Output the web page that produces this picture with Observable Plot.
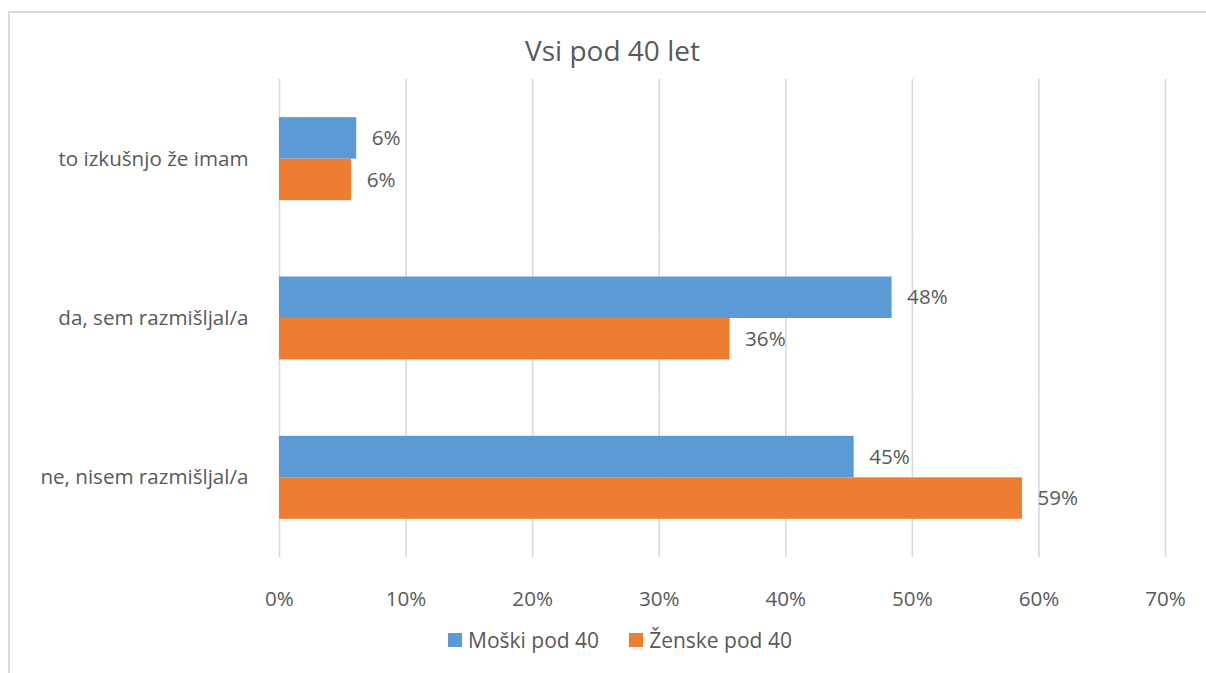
<!DOCTYPE html>
<html><head><meta charset="utf-8">
<script src="https://cdn.jsdelivr.net/npm/d3@7"></script>
<script src="https://cdn.jsdelivr.net/npm/@observablehq/plot@0.6"></script>
<style>
html,body{margin:0;padding:0;background:#fff;overflow:hidden;}
body{font-family:"Open Sans",sans-serif;color:#595959;width:1206px;height:673px;position:relative;}
#frame{position:absolute;left:8px;top:11px;width:1300px;height:800px;border:2px solid #d9d9d9;box-sizing:border-box;}
#title{position:absolute;left:0;width:1225px;top:36px;line-height:28px;text-align:center;font-size:28px;}
#chart{position:absolute;left:0;top:70px;}
#legend{position:absolute;left:448px;top:630px;display:flex;align-items:center;font-size:21px;line-height:20px;white-space:nowrap;}
.item{display:flex;align-items:center;margin-right:30px;}
.sw{width:14px;height:14px;margin-right:6px;}
</style>
</head><body>
<div id="frame"></div>
<div id="title">Vsi pod 40 let</div>
<div id="chart"></div>
<div id="legend"></div>
<script>
const categories = ["to izkušnjo že imam", "da, sem razmišljal/a", "ne, nisem razmišljal/a"];
const series = ["Moški pod 40", "Ženske pod 40"];
const moski = [0.061, 0.484, 0.454];
const zenske = [0.057, 0.356, 0.587];
const xTicks = [0, 0.1, 0.2, 0.3, 0.4, 0.5, 0.6, 0.7];
const colors = ["#5B9BD5", "#ED7D31"];

const data = [];
categories.forEach((c, i) => {
  data.push({category: c, series: series[0], value: moski[i]});
  data.push({category: c, series: series[1], value: zenske[i]});
});
const fmt = d3.format(".0%");
const fs = 20.6;

const chart = Plot.plot({
  width: 1206,
  height: 560,
  marginLeft: 279,
  marginRight: 41,
  marginTop: 9,
  marginBottom: 73,
  style: {fontFamily: "Open Sans", fontSize: fs + "px", color: "#595959", background: "transparent", overflow: "visible"},
  x: {domain: [0, 0.7], label: null},
  y: {domain: series, paddingInner: 0, paddingOuter: 0.92, round: false, axis: null, label: null},
  fy: {domain: categories, padding: 0, round: false, label: null},
  color: {domain: series, range: colors},
  marks: [
    Plot.gridX(xTicks, {stroke: "#d9d9d9", strokeOpacity: 1, strokeWidth: 1.6}),
    Plot.barX(data, {x: "value", y: "series", fy: "category", fill: "series"}),
    Plot.text(data, {x: "value", y: "series", fy: "category", text: d => fmt(d.value), dx: 15, textAnchor: "start", fill: "#595959", fontSize: fs}),
    Plot.axisX(xTicks, {tickSize: 0, tickPadding: 34, tickFormat: fmt, fontSize: fs, fill: "#595959", label: null}),
    Plot.axisFy({anchor: "left", tickSize: 0, tickPadding: 31, fontSize: fs, fill: "#595959", label: null})
  ]
});
document.getElementById("chart").appendChild(chart);

const legend = document.getElementById("legend");
series.forEach((s, i) => {
  const it = document.createElement("div");
  it.className = "item";
  const sw = document.createElement("div");
  sw.className = "sw";
  sw.style.background = colors[i];
  const t = document.createElement("span");
  t.textContent = s;
  it.appendChild(sw); it.appendChild(t);
  legend.appendChild(it);
});
</script>
</body></html>
